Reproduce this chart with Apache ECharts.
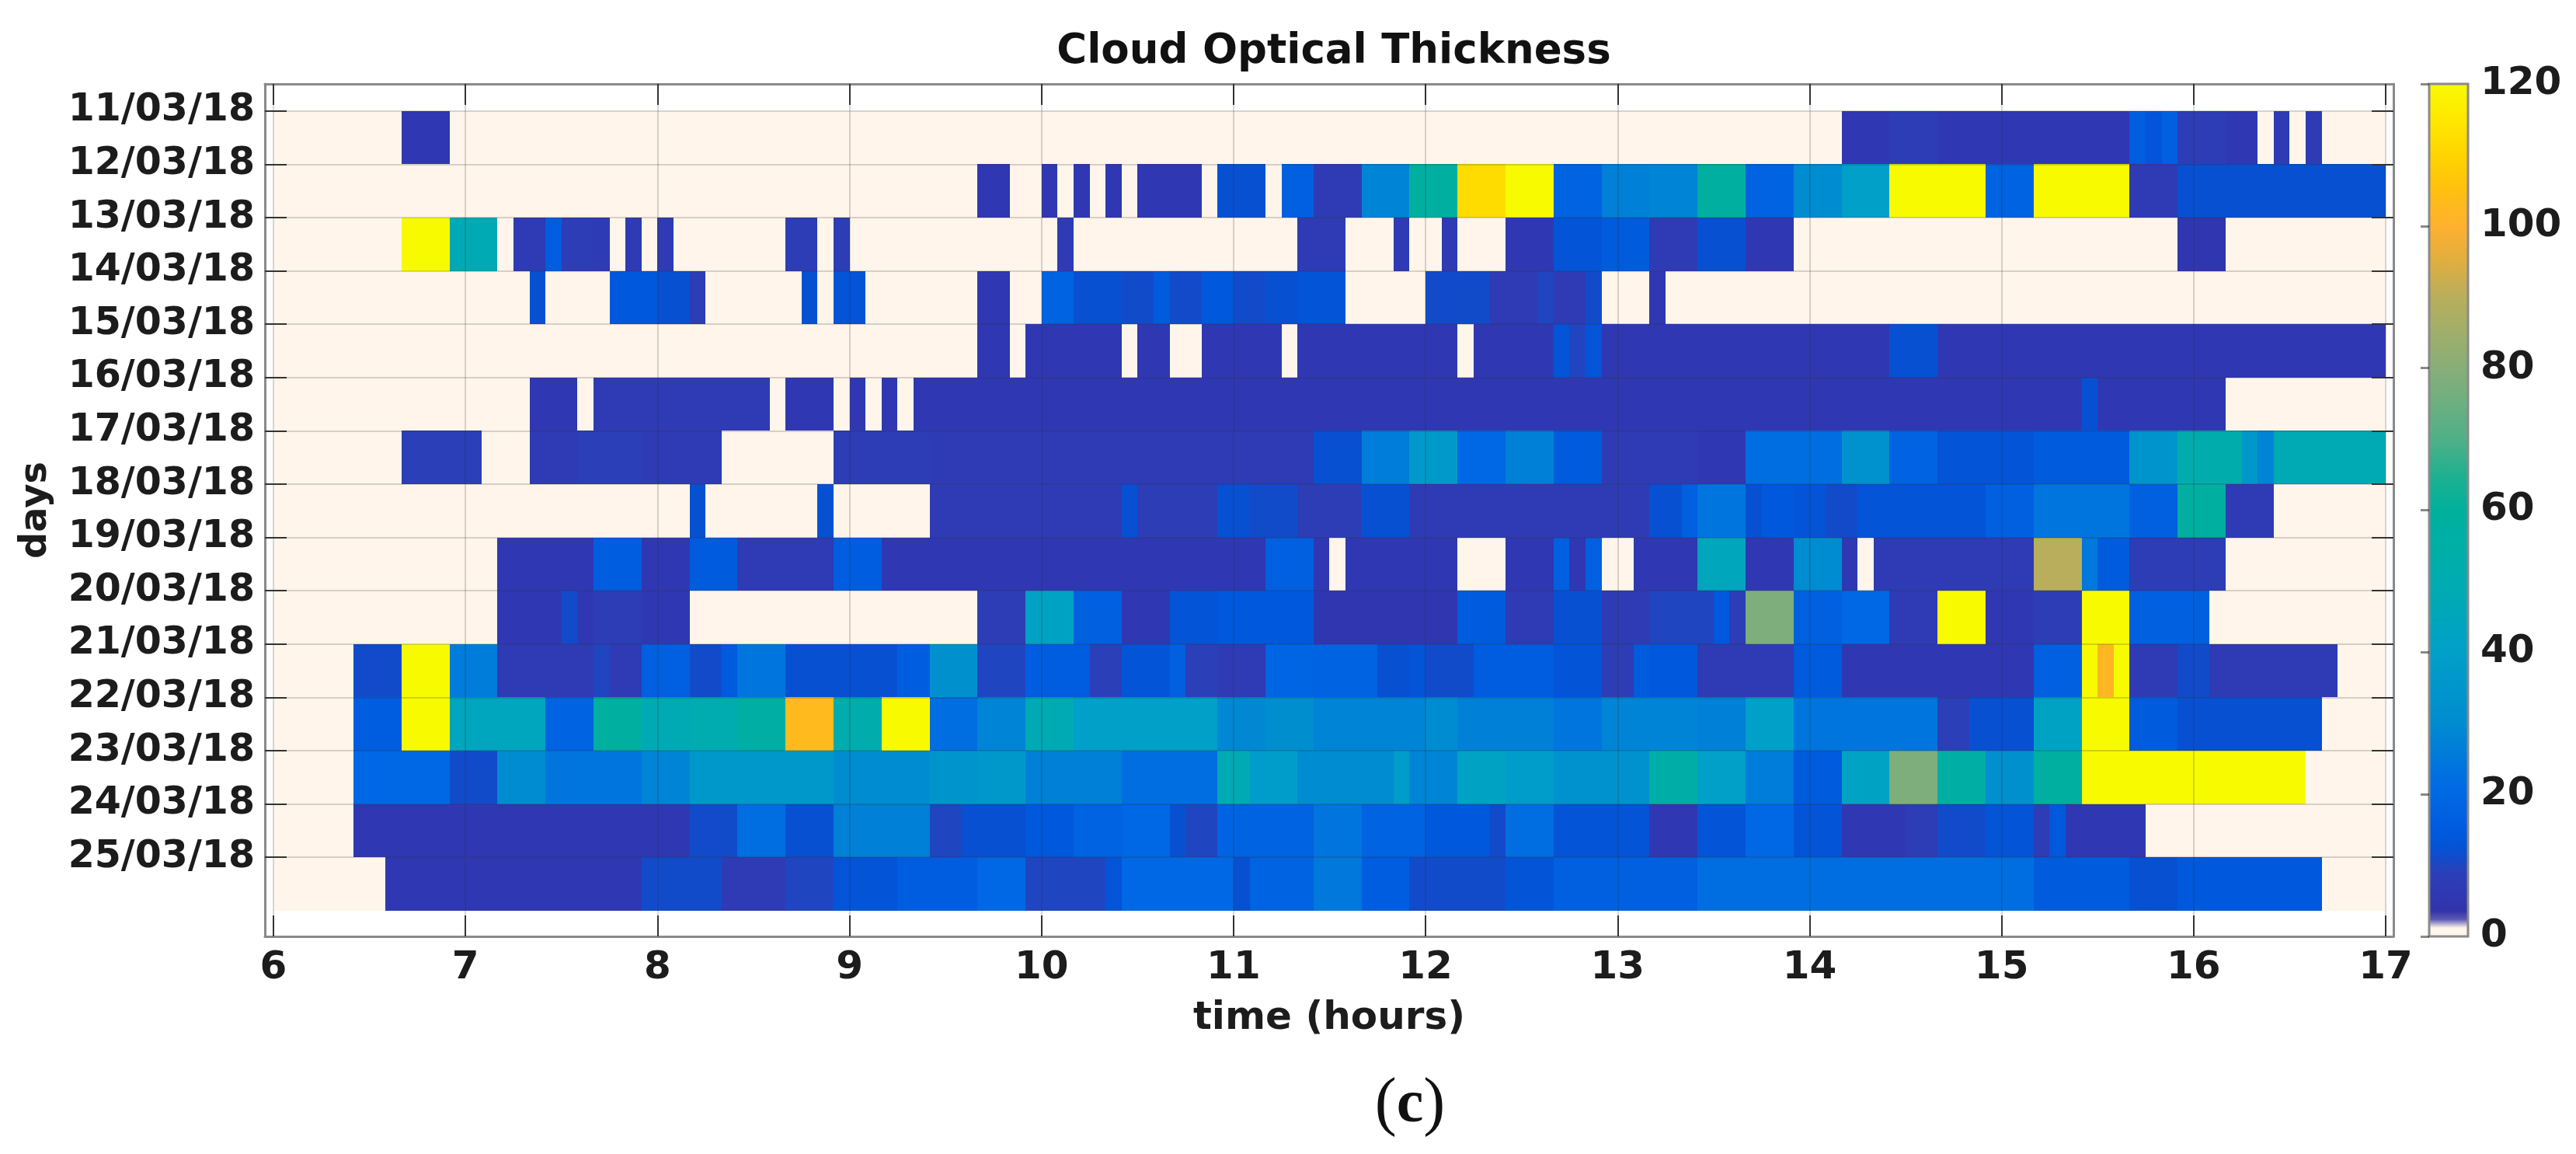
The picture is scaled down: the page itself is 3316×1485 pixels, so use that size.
<!DOCTYPE html>
<html>
<head>
<meta charset="utf-8">
<title>Cloud Optical Thickness</title>
<script src="https://cdn.jsdelivr.net/npm/echarts@6/dist/echarts.min.js"></script>
<style>html,body{margin:0;padding:0;background:#fff}#c{width:3316px;height:1485px}</style>
</head>
<body>
<div id="c"></div>
<script>
// Hours on the x axis, day labels on the y axis, colour bar ticks
const hourTicks = [6,7,8,9,10,11,12,13,14,15,16,17];
const dayTicks = [11,12,13,14,15,16,17,18,19,20,21,22,23,24,25];
const dayLabels = ['11/03/18','12/03/18','13/03/18','14/03/18','15/03/18','16/03/18','17/03/18','18/03/18','19/03/18','20/03/18','21/03/18','22/03/18','23/03/18','24/03/18','25/03/18'];
const startHour = 6;
const stepsPerHour = 12; // one cell every 5 minutes

// Cloud optical thickness, one list per day, as [number of 5-minute cells, value] runs
const day11 = [[8,0],[3,6],[87,0],[3,6],[3,8],[12,6],[1,16],[1,13],[1,17],[3,8],[2,6],[1,0],[1,7],[1,0],[1,7],[4,0]];
const day12 = [[44,0],[2,6],[2,0],[1,6],[1,0],[1,6],[1,0],[1,6],[1,0],[4,6],[1,0],[3,12],[1,0],[2,17],[3,7],[3,28],[3,58],[3,112],[3,120],[3,18],[3,27],[3,28],[3,58],[3,18],[3,30],[3,40],[6,120],[3,18],[6,120],[3,7],[13,12]];
const day13 = [[8,0],[3,120],[3,48],[1,0],[2,7],[1,16],[2,8],[1,7],[1,0],[1,7],[1,0],[1,7],[7,0],[2,8],[1,0],[1,8],[13,0],[1,7],[14,0],[3,7],[3,0],[1,7],[2,0],[1,7],[3,0],[3,6],[3,13],[3,15],[3,7],[3,12],[3,6],[24,0],[3,5],[10,0]];
const day14 = [[16,0],[1,12],[4,0],[3,14],[2,12],[1,8],[6,0],[1,12],[1,0],[2,13],[7,0],[2,6],[2,0],[2,18],[3,12],[2,11],[1,15],[2,11],[2,14],[2,11],[2,12],[3,13],[5,0],[4,11],[3,7],[1,10],[2,7],[1,11],[3,0],[1,6],[45,0]];
const day15 = [[44,0],[2,6],[1,0],[6,6],[1,0],[2,6],[2,0],[5,6],[1,0],[10,6],[1,0],[5,6],[1,13],[1,10],[1,13],[18,6],[3,12],[28,6]];
const day16 = [[16,0],[3,6],[1,0],[11,7],[1,0],[3,6],[1,0],[1,6],[1,0],[1,6],[1,0],[73,6],[1,12],[8,6],[10,0]];
const day17 = [[8,0],[5,9],[3,0],[3,7],[4,9],[5,7],[7,0],[6,8],[24,7],[3,12],[3,26],[3,37],[3,20],[3,27],[3,15],[6,7],[3,6],[6,22],[3,33],[3,18],[6,13],[6,15],[3,34],[4,52],[1,36],[1,28],[7,48]];
const day18 = [[26,0],[1,12],[7,0],[1,12],[6,0],[12,7],[1,12],[5,8],[2,12],[3,11],[4,8],[3,12],[15,7],[2,12],[1,17],[3,24],[1,12],[2,14],[2,13],[2,11],[8,13],[3,17],[6,24],[3,17],[3,58],[3,7],[7,0]];
const day19 = [[14,0],[6,6],[3,16],[3,6],[3,15],[6,7],[3,16],[24,6],[3,17],[1,6],[1,0],[7,6],[3,0],[3,6],[1,17],[1,6],[1,17],[2,0],[4,6],[3,45],[3,6],[3,30],[1,6],[1,0],[10,7],[3,90],[1,25],[2,15],[6,8],[10,0]];
const day20 = [[14,0],[4,6],[1,11],[1,6],[3,8],[3,6],[18,0],[3,8],[3,42],[3,17],[3,6],[3,13],[6,14],[9,5],[3,15],[3,7],[3,12],[3,7],[3,10],[1,10],[1,14],[1,8],[3,78],[3,17],[3,20],[3,7],[3,120],[3,6],[3,8],[3,120],[5,17],[11,0]];
const day21 = [[5,0],[3,11],[3,120],[3,26],[6,7],[1,10],[2,7],[3,17],[2,11],[1,15],[3,24],[7,12],[2,16],[3,32],[3,10],[4,16],[2,9],[3,13],[1,17],[2,9],[3,7],[3,19],[4,18],[2,12],[1,13],[3,11],[5,16],[3,13],[2,8],[1,15],[3,14],[6,7],[3,15],[12,6],[3,17],[1,120],[1,102],[1,120],[3,7],[2,11],[8,7],[3,0]];
const day22 = [[5,0],[3,16],[3,120],[6,44],[3,18],[3,58],[3,48],[3,50],[3,56],[3,103],[3,52],[3,120],[3,22],[3,28],[3,48],[9,40],[3,29],[3,31],[7,28],[2,30],[6,27],[3,24],[6,28],[3,27],[3,40],[9,24],[2,9],[4,12],[3,42],[3,120],[3,15],[9,12],[4,0]];
const day23 = [[5,0],[6,20],[3,11],[3,30],[6,24],[3,28],[9,36],[6,30],[3,34],[3,36],[6,27],[6,22],[2,48],[3,38],[6,30],[1,38],[3,28],[3,42],[3,38],[6,33],[3,54],[3,40],[3,26],[3,15],[3,42],[3,78],[3,56],[3,32],[3,58],[14,120],[5,0]];
const day24 = [[5,0],[21,6],[3,11],[3,22],[3,12],[6,27],[2,10],[4,12],[3,14],[3,18],[3,20],[1,12],[2,10],[6,18],[3,24],[4,18],[4,14],[1,11],[3,22],[6,13],[3,6],[3,13],[3,20],[3,13],[4,6],[2,8],[3,11],[3,13],[1,8],[1,14],[5,6],[15,0]];
const day25 = [[7,0],[16,6],[5,11],[4,7],[3,10],[4,13],[5,16],[3,20],[5,10],[1,13],[7,20],[1,12],[4,18],[3,25],[3,16],[6,11],[3,13],[9,17],[21,22],[6,15],[3,12],[9,14],[4,0]];
const allDays = [day11,day12,day13,day14,day15,day16,day17,day18,day19,day20,day21,day22,day23,day24,day25];

// Colour map: [value, colour]
const colourAnchors = [[0,'#fff5ea'],[2,'#fff5ea'],[2.5,'#3232a8'],[5,'#3036b0'],[9,'#2b3fb8'],[10.5,'#1a48c4'],[11.5,'#0a4ed0'],[14,'#0058dc'],[20,'#0068e4'],[25,'#0078dc'],[30,'#008cd0'],[40,'#00a0c8'],[50,'#00acb0'],[60,'#00b09c'],[65,'#20b090'],[70,'#50b088'],[80,'#88ae78'],[90,'#b8ae5c'],[95,'#e0ae40'],[100,'#ffb030'],[105,'#ffc010'],[110,'#ffd400'],[115,'#ffe800'],[120,'#f8fa00']];

function hexRgb(h){return [1,3,5].map(i=>parseInt(h.substr(i,2),16));}
function colourAt(v){
  for(let i=1;i<colourAnchors.length;i++){
    const a=colourAnchors[i-1],b=colourAnchors[i];
    if(v<=b[0]){
      const f=(v-a[0])/(b[0]-a[0]||1),ca=hexRgb(a[1]),cb=hexRgb(b[1]);
      return 'rgb('+ca.map((c,k)=>Math.round(c+(cb[k]-c)*f)).join(',')+')';
    }
  }
  return colourAnchors[colourAnchors.length-1][1];
}
const paletteList=[];
for(let i=0;i<=240;i++)paletteList.push(colourAt(i/2));

const cells=[];
allDays.forEach((runs,d)=>{
  let i=0;
  runs.forEach(r=>{
    for(let k=0;k<r[0];k++,i++)cells.push([startHour+i/stepsPerHour,dayTicks[d],r[1]]);
  });
});

const ink='#1c1c1c',boxColour='#8a8a8a',tickColour='#333333',gridColour='rgba(50,50,50,0.10)';
const bold={fontFamily:'DejaVu Sans',fontWeight:'bold',color:ink};
const sharedX={type:'value',min:5.9555,max:17.0405,z:5,gridIndex:0,
  axisLine:{show:true,onZero:false,lineStyle:{color:boxColour,width:3}},
  axisTick:{show:true,inside:true,length:27,customValues:hourTicks,lineStyle:{color:tickColour,width:2}},
  splitLine:{show:true,lineStyle:{color:gridColour,width:2}}};
const sharedY={type:'value',inverse:true,min:10.494,max:26.485,z:5,gridIndex:0,
  axisLine:{show:true,onZero:false,lineStyle:{color:boxColour,width:3}},
  axisTick:{show:true,inside:true,length:28,customValues:dayTicks,lineStyle:{color:tickColour,width:2}},
  splitLine:{show:true,lineStyle:{color:gridColour,width:2}}};

const chart=echarts.init(document.getElementById('c'),null,{renderer:'canvas'});
chart.setOption({
  animation:false,
  backgroundColor:'#ffffff',
  title:[
    {text:'Cloud Optical Thickness',left:1712,top:36,textAlign:'center',textStyle:{fontFamily:'DejaVu Sans',fontWeight:'bold',fontSize:53,color:'#111111'}},
    {text:'{p|(}{c|c}{p|)}',left:1810,top:1376,textAlign:'center',textStyle:{rich:{
      p:{fontFamily:'Liberation Serif',fontWeight:'normal',fontSize:84,color:'#111111'},
      c:{fontFamily:'Liberation Serif',fontWeight:'bold',fontSize:78,color:'#111111'}}}}
  ],
  grid:[
    {left:341,top:108,width:2740,height:1097,show:false},
    {left:3127,top:108,width:50,height:1097,show:true,z:10,backgroundColor:'transparent',borderColor:boxColour,borderWidth:3}
  ],
  xAxis:[
    Object.assign({},sharedX,{position:'bottom',name:'time (hours)',nameLocation:'middle',nameGap:81,
      nameTextStyle:Object.assign({fontSize:50},bold),
      axisLabel:Object.assign({show:true,fontSize:50,margin:16,customValues:hourTicks,formatter:v=>String(v)},bold)}),
    Object.assign({},sharedX,{position:'top',axisLabel:{show:false}}),
    {type:'value',gridIndex:1,min:0,max:1,show:false}
  ],
  yAxis:[
    Object.assign({},sharedY,{position:'left',name:'days',nameLocation:'middle',nameGap:270,nameRotate:90,
      nameTextStyle:Object.assign({fontSize:48},bold),
      axisLabel:Object.assign({show:true,fontSize:49,margin:13,customValues:dayTicks,formatter:v=>dayLabels[dayTicks.indexOf(v)]},bold)}),
    Object.assign({},sharedY,{position:'right',axisLabel:{show:false}}),
    {type:'value',gridIndex:1,position:'right',min:0,max:120,interval:20,z:11,
      axisLine:{show:false},
      axisTick:{show:true,inside:true,length:11,lineStyle:{color:'rgba(40,40,40,0.55)',width:3}},
      splitLine:{show:false},
      axisLabel:Object.assign({show:true,fontSize:50,margin:16},bold)}
  ],
  visualMap:{
    type:'continuous',show:true,seriesIndex:0,dimension:2,min:0,max:120,
    left:3127,top:108,itemWidth:50,itemHeight:1097,padding:0,text:['',''],
    calculable:false,hoverLink:false,showLabel:false,
    inRange:{color:paletteList},z:4
  },
  series:[{
    type:'custom',xAxisIndex:0,yAxisIndex:0,silent:true,z:2,
    encode:{x:0,y:1},
    data:cells,
    renderItem:function(params,api){
      const t=api.value(0),d=api.value(1);
      const p0=api.coord([t,d]),p1=api.coord([t+1/stepsPerHour,d+1]);
      const x0=Math.round(p0[0]),x1=Math.round(p1[0]),y0=Math.round(p0[1]),y1=Math.round(p1[1]);
      return {type:'rect',shape:{x:x0,y:y0,width:x1-x0,height:y1-y0},style:{fill:api.visual('color')}};
    }
  }]
});
</script>
</body>
</html>
